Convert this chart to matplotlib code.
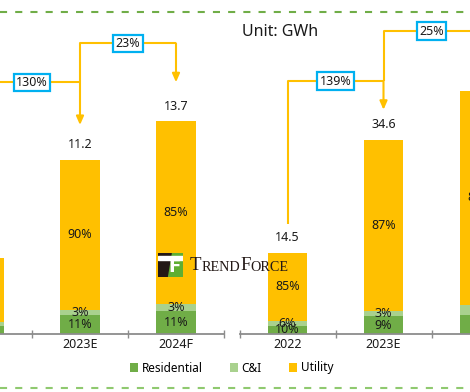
import numpy as np
import matplotlib
matplotlib.use("Agg")
import matplotlib.pyplot as plt
from matplotlib.lines import Line2D
from matplotlib.patches import Rectangle, Polygon

plt.rcParams["font.family"] = ["Noto Sans", "DejaVu Sans"]

C_RES, C_CI, C_UTIL = "#70ad47", "#a9d18e", "#ffc000"
C_ARROW, C_BOX, C_AX = "#ffc000", "#00b0f0", "#8c8c8c"

# left block (cropped at the figure edge): 2022 / 2023E / 2024F
l_cats = ["2022", "2023E", "2024F"]
l_total = [4.9, 11.2, 13.7]
l_res = [10, 11, 11]
l_ci = [6, 3, 3]
l_util = [85, 90, 85]
l_growth = ["130%", "23%"]

# right block (cropped at the figure edge)
r_cats = ["2022", "2023E", "2024F"]
r_total = [14.5, 34.6, 43.3]
r_res = [10, 9, 8]
r_ci = [6, 3, 4]
r_util = [85, 87, 88]
r_growth = ["139%", "25%"]

W, H = 470, 392
fig = plt.figure(figsize=(W / 100, H / 100), dpi=100)


def panel(ax, cats, total, res, ci, util, labelled):
    x = np.arange(len(cats))
    t = np.array(total)
    r = t * np.array(res) / 100
    c = t * np.array(ci) / 100
    u = t - r - c
    w = 0.41
    hs = [ax.bar(x, r, w, color=C_RES, label="Residential"),
          ax.bar(x, c, w, bottom=r, color=C_CI, label="C&I"),
          ax.bar(x, u, w, bottom=r + c, color=C_UTIL, label="Utility")]
    kw = dict(ha="center", va="center", fontsize=9, color="#1a1a1a")
    for i in labelled:  # bars whose labels fall inside the crop
        ax.text(i, r[i] / 2, f"{res[i]}%", **kw)
        ax.text(i, r[i] + c[i] / 2, f"{ci[i]}%", **kw)
        ax.text(i, r[i] + c[i] + u[i] / 2, f"{util[i]}%", **kw)
        ax.annotate(f"{t[i]:.1f}", (i, t[i]), xytext=(0, 15), textcoords="offset pixels", **kw)
    for s in ["top", "left", "right"]:
        ax.spines[s].set_visible(False)
    ax.spines["bottom"].set_color(C_AX)
    ax.spines["bottom"].set_linewidth(1.3)
    ax.set_yticks([])
    ax.set_xticks(np.arange(len(cats) + 1) - 0.5)
    ax.tick_params(which="major", direction="inout", length=6, width=1, color=C_AX, labelbottom=False)
    ax.set_xticks(x, cats, minor=True)
    ax.tick_params(which="minor", length=0, pad=3, labelsize=9, labelcolor="#1a1a1a")
    return hs


def bracket(ax, x0, y0, x1, ytop, ytip, label):
    ax.plot([x0, x0, x1], [y0, ytop, ytop], color=C_ARROW, lw=1.5, solid_capstyle="butt")
    ax.annotate("", xy=(x1, ytip), xytext=(x1, ytop),
                arrowprops=dict(arrowstyle="-|>,head_length=0.5,head_width=0.22", color=C_ARROW,
                                lw=1.5, shrinkA=0, shrinkB=0))
    ax.text((x0 + x1) / 2, ytop, label, ha="center", va="center", fontsize=9, color="#1a1a1a",
            bbox=dict(boxstyle="square,pad=0.18", fc="white", ec=C_BOX, lw=1.6), zorder=5)


axl = fig.add_axes([0, 58 / H, 224 / W, 334 / H])
hs = panel(axl, l_cats, l_total, l_res, l_ci, l_util, [1, 2])
axl.set_xlim(0.5 - 32 / 96, 2.5)
axl.set_ylim(0, 334 / 15.54)
bracket(axl, 0, 7.2, 1, 16.2, 13.45, l_growth[0])
bracket(axl, 1, 16.2, 2, 18.7, 16.2, l_growth[1])

axr = fig.add_axes([239.5 / W, 58 / H, 230.5 / W, 334 / H])
panel(axr, r_cats, r_total, r_res, r_ci, r_util, [0, 1, 2])
axr.set_xlim(-0.5, -0.5 + 230.5 / 96)
axr.set_ylim(0, 334 / 5.62)
bracket(axr, 0, 19.6, 1, 45.0, 39.9, r_growth[0])
bracket(axr, 1, 45.0, 2, 53.9, 49.0, r_growth[1])

fig.text(242 / W, 1 - 32 / H, "Unit: GWh", fontsize=11.5, va="center", color="#1a1a1a")

fig.legend(hs, ["Residential", "C&I", "Utility"], loc="center", bbox_to_anchor=(231.5 / W, 24 / H),
           ncol=3, frameon=False, fontsize=8.5, handlelength=0.7, handleheight=0.7,
           handletextpad=0.3, columnspacing=2.3)

# green dashed frame lines
fig.add_artist(Line2D([0, 1], [1 - 11.5 / H] * 2, transform=fig.transFigure, color="#70ad47",
                      lw=1.5, ls=(0, (3.4, 3.9))))
fig.add_artist(Line2D([0, 1], [4 / H] * 2, transform=fig.transFigure, color="#8fc96f",
                      lw=1.5, ls=(0, (3.4, 3.9))))

# watermark
lg = fig.add_axes([158 / W, 1 - 277 / H, 25 / W, 24 / H])
lg.set_xlim(0, 1); lg.set_ylim(0, 1); lg.axis("off")
lg.add_patch(Rectangle((0, 0), 1, 1, color="#231815"))
lg.add_patch(Polygon([[0.38, 0], [1, 0], [1, 1], [0.55, 1]], color="#5fae32"))
lg.add_patch(Rectangle((0, 0.72), 1, 0.14, color="white"))
lg.text(0.66, 0.4, "F", color="white", fontsize=13, fontweight="bold", ha="center", va="center",
        family="DejaVu Sans")

serif = "Liberation Serif"
prev = fig.text(190 / W, 1 - 270 / H, "T", family=serif, fontsize=13.5, va="baseline", color="#231815")
for s, fs in [("REND", 10.2), ("F", 13.5), ("ORCE", 10.2)]:
    prev = lg.annotate(s, xy=(1, 0), xycoords=prev, va="bottom", ha="left", family=serif,
                       fontsize=fs, color="#231815", annotation_clip=False)

fig.savefig("out.png", dpi=100)
